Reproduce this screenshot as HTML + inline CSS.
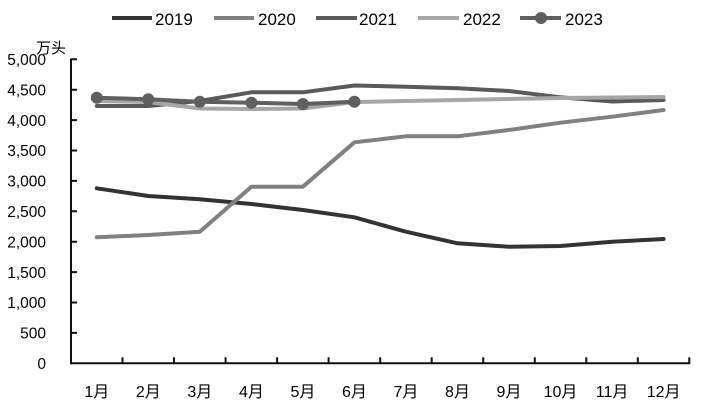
<!DOCTYPE html>
<html><head><meta charset="utf-8"><style>
html,body{margin:0;padding:0;background:#fff;}
svg{display:block;}
text{font-family:"Liberation Sans","Noto Sans CJK SC",sans-serif;fill:#000;}
</style></head><body>
<svg width="706" height="411" viewBox="0 0 706 411" xmlns="http://www.w3.org/2000/svg">
<!-- legend -->
<g stroke-width="4" fill="none">
<line x1="112" y1="18" x2="152" y2="18" stroke="#333333"/>
<line x1="214" y1="18" x2="254" y2="18" stroke="#808080"/>
<line x1="316" y1="18" x2="357" y2="18" stroke="#595959"/>
<line x1="418" y1="18" x2="459" y2="18" stroke="#a6a6a6"/>
<line x1="520" y1="18" x2="561" y2="18" stroke="#5f5f5f"/>
</g>
<circle cx="541" cy="18" r="6" fill="#5f5f5f"/>
<g font-size="17">
<text x="155" y="25">2019</text>
<text x="258" y="25">2020</text>
<text x="359" y="25">2021</text>
<text x="463" y="25">2022</text>
<text x="565" y="25">2023</text>
</g>
<!-- unit -->
<text x="36" y="53" font-size="15">万头</text>
<!-- y labels -->
<g font-size="15.5" text-anchor="end">
<text x="46" y="65">5,000</text>
<text x="46" y="95.4">4,500</text>
<text x="46" y="125.8">4,000</text>
<text x="46" y="156.2">3,500</text>
<text x="46" y="186.6">3,000</text>
<text x="46" y="217">2,500</text>
<text x="46" y="247.4">2,000</text>
<text x="46" y="277.8">1,500</text>
<text x="46" y="308.2">1,000</text>
<text x="46" y="338.6">500</text>
<text x="46" y="369">0</text>
</g>
<!-- axes -->
<g stroke="#111" stroke-width="2" fill="none">
<line x1="71" y1="58.5" x2="71" y2="364.3"/>
<line x1="70" y1="363.3" x2="690.3" y2="363.3"/>
<path d="M71 59.3h6M71 89.7h6M71 120.1h6M71 150.5h6M71 180.9h6M71 211.3h6M71 241.7h6M71 272.1h6M71 302.5h6M71 332.9h6"/>
<path d="M122.5 363.3v-6M174 363.3v-6M225.6 363.3v-6M277.1 363.3v-6M328.6 363.3v-6M380.2 363.3v-6M431.7 363.3v-6M483.2 363.3v-6M534.8 363.3v-6M586.3 363.3v-6M637.8 363.3v-6M689.3 363.3v-6"/>
</g>
<!-- x labels -->
<g font-size="16" text-anchor="middle">
<text x="96.8" y="397">1月</text>
<text x="148.3" y="397">2月</text>
<text x="199.8" y="397">3月</text>
<text x="251.4" y="397">4月</text>
<text x="302.9" y="397">5月</text>
<text x="354.4" y="397">6月</text>
<text x="405.9" y="397">7月</text>
<text x="457.5" y="397">8月</text>
<text x="509" y="397">9月</text>
<text x="560.5" y="397">10月</text>
<text x="612.1" y="397">11月</text>
<text x="663.6" y="397">12月</text>
</g>
<!-- series -->
<g fill="none" stroke-width="4" stroke-linejoin="round" stroke-linecap="round">
<polyline stroke="#333333" points="96.8,188.3 148.3,196 199.8,199.3 251.4,204 302.9,210 354.4,217.3 405.9,231.7 457.5,243.3 509,246.7 560.5,246 612.1,241.7 663.6,239"/>
<polyline stroke="#808080" points="96.8,237.3 148.3,235 199.8,231.7 251.4,186.7 302.9,186.7 354.4,142.3 405.9,136.3 457.5,136.3 509,130 560.5,122.7 612.1,116.7 663.6,110"/>
<polyline stroke="#595959" points="96.8,106 148.3,106 199.8,101 251.4,92.3 302.9,92.3 354.4,85.5 405.9,86.7 457.5,88.3 509,91 560.5,97.3 612.1,101.5 663.6,100"/>
<polyline stroke="#a6a6a6" points="96.8,101 148.3,102 199.8,108.5 251.4,109 302.9,108.5 354.4,102 405.9,101 457.5,100 509,99 560.5,98 612.1,97.5 663.6,97"/>
<polyline stroke="#5f5f5f" points="96.8,97.7 148.3,99.3 199.8,101.7 251.4,102.7 302.9,104 354.4,101.7"/>
</g>
<g fill="#5f5f5f">
<circle cx="96.8" cy="97.7" r="6"/>
<circle cx="148.3" cy="99.3" r="6"/>
<circle cx="199.8" cy="101.7" r="6"/>
<circle cx="251.4" cy="102.7" r="6"/>
<circle cx="302.9" cy="104" r="6"/>
<circle cx="354.4" cy="101.7" r="6"/>
</g>
</svg>
</body></html>
